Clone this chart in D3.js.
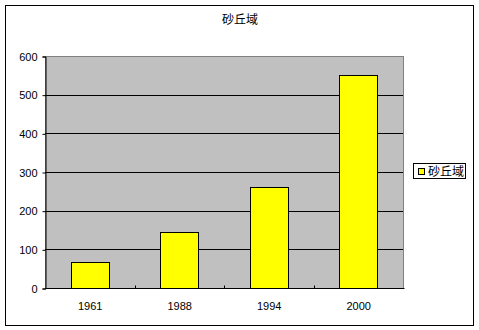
<!DOCTYPE html>
<html>
<head>
<meta charset="utf-8">
<script src="https://cdn.jsdelivr.net/npm/d3@7"></script>
<style>
  body { margin: 0; background: #fff; }
  text { font-family: "Liberation Sans", "Noto Sans CJK JP", sans-serif; font-size: 11px; fill: #000; }
  .cjk { font-family: "Noto Sans CJK JP", sans-serif; }
</style>
</head>
<body>
<div id="chart"></div>
<script>
// chart data
const years = ["1961", "1988", "1994", "2000"];
const values = [67, 145, 261, 551];
const yTicks = [0, 100, 200, 300, 400, 500, 600];
const title = "砂丘域";
const seriesName = "砂丘域";

let svg = d3.select("#chart")
  .append("svg")
  .attr("width", 479)
  .attr("height", 330);

// outer frame
svg.append("rect")
  .attr("x", 5.5).attr("y", 5.5)
  .attr("width", 468).attr("height", 320)
  .attr("fill", "#fff").attr("stroke", "#000");

let plot = { left: 45, right: 403, top: 56, bottom: 288 };

let x = d3.scaleBand()
  .domain(years)
  .range([plot.left, plot.right])
  .paddingInner(0.58)
  .paddingOuter(0.29);

let y = d3.scaleLinear()
  .domain([0, 600])
  .range([plot.bottom, plot.top]);

// plot area background
svg.append("rect")
  .attr("x", plot.left + 0.5).attr("y", plot.top + 0.5)
  .attr("width", plot.right - plot.left).attr("height", plot.bottom - plot.top)
  .attr("fill", "#c0c0c0").attr("stroke", "#808080");

// grid lines
svg.selectAll(".grid")
  .data(yTicks.filter(d => d > 0 && d < 600))
  .enter().append("line")
  .attr("x1", plot.left).attr("x2", plot.right)
  .attr("y1", d => Math.round(y(d)) + 0.5)
  .attr("y2", d => Math.round(y(d)) + 0.5)
  .attr("stroke", "#000");

// bars
svg.selectAll(".bar")
  .data(values)
  .enter().append("rect")
  .attr("x", (d, i) => Math.round(x(years[i])) + 0.5)
  .attr("y", d => Math.round(y(d)) + 0.5)
  .attr("width", Math.round(x.bandwidth()))
  .attr("height", d => plot.bottom - Math.round(y(d)))
  .attr("fill", "#ffff00")
  .attr("stroke", "#000");

// y axis
let yAxis = d3.axisLeft(y)
  .tickValues(yTicks)
  .tickSize(3)
  .tickPadding(5)
  .tickFormat(d3.format("d"));
let gy = svg.append("g")
  .attr("transform", `translate(${plot.left + 0.5},0.5)`)
  .call(yAxis);
gy.select(".domain").attr("stroke", "#000");
gy.selectAll("text").style("font-size", "11px").attr("font-family", null);

// x axis
let xTickScale = d3.scaleLinear().domain([0, years.length]).range([plot.left, plot.right]);
let gx = svg.append("g")
  .attr("transform", `translate(0.5,${plot.bottom + 0.5})`);
gx.append("line")
  .attr("x1", plot.left).attr("x2", plot.right + 1)
  .attr("stroke", "#000");
gx.selectAll(".tk")
  .data(d3.range(1, years.length))
  .enter().append("line")
  .attr("x1", d => Math.round(xTickScale(d)))
  .attr("x2", d => Math.round(xTickScale(d)))
  .attr("y1", 0).attr("y2", -3)
  .attr("stroke", "#000");
gx.selectAll(".lbl")
  .data(years)
  .enter().append("text")
  .attr("x", d => x(d) + x.bandwidth() / 2)
  .attr("y", 21)
  .attr("text-anchor", "middle")
  .text(d => d);

// title
svg.append("text")
  .attr("class", "cjk")
  .attr("x", 240).attr("y", 24)
  .attr("text-anchor", "middle")
  .style("font-size", "12px")
  .text(title);

// legend
let lg = svg.append("g");
lg.append("rect")
  .attr("x", 413.5).attr("y", 163.5)
  .attr("width", 52).attr("height", 15)
  .attr("fill", "#fff").attr("stroke", "#000");
lg.append("rect")
  .attr("x", 418.5).attr("y", 168.5)
  .attr("width", 6).attr("height", 6)
  .attr("fill", "#ffff00").attr("stroke", "#000");
lg.append("text")
  .attr("class", "cjk")
  .attr("x", 428).attr("y", 176)
  .style("font-size", "12px")
  .text(seriesName);
</script>
</body>
</html>
